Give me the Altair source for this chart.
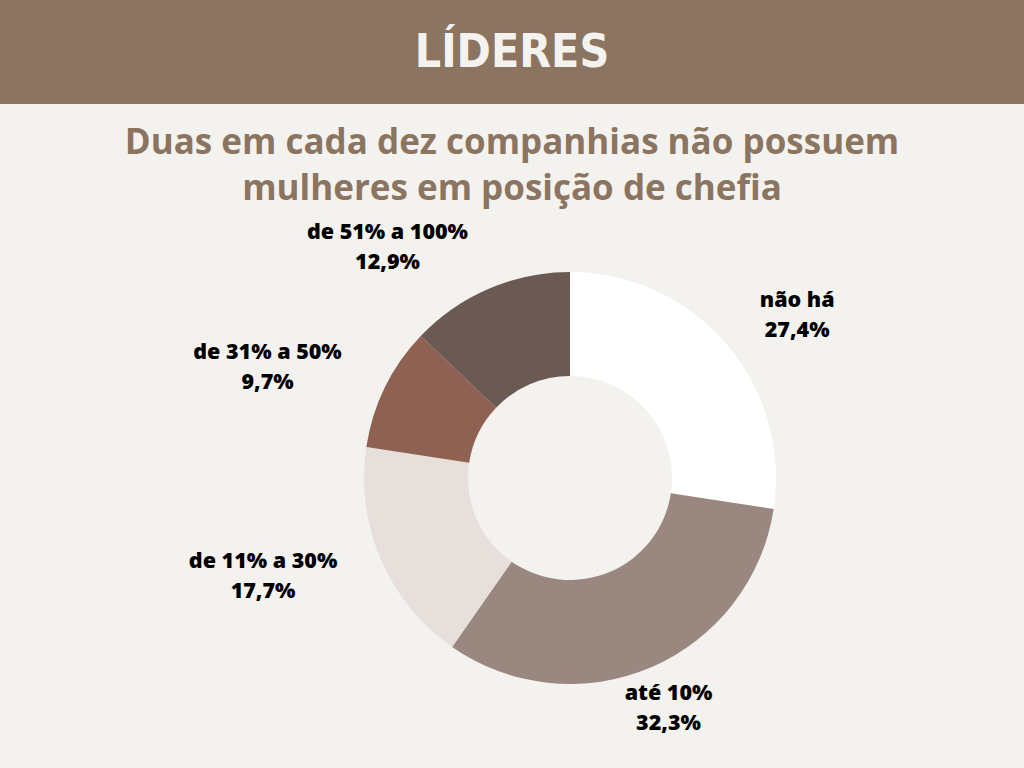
import altair as alt
import pandas as pd

categories = ["não há", "até 10%", "de 11% a 30%", "de 31% a 50%", "de 51% a 100%"]
values = [27.4, 32.3, 17.7, 9.7, 12.9]
colors = ["#ffffff", "#9a8880", "#e7dfdb", "#8e6152", "#6b5953"]

header_text = "LÍDERES"
title_lines = ["Duas em cada dez companhias não possuem", "mulheres em posição de chefia"]

BG = "#f4f2ef"
BROWN = "#8b7560"
CX, CY = 570, 478
R_OUT, R_IN = 206, 102
LABEL_R = 260
LINE_H = 30
# layout nudges for each label (pixels), relative to the label block centre
nudges = [(30, 7), (-4, -8), (-68, -4), (-69, 4), (-80, 9)]

df = pd.DataFrame({
    "cat": categories,
    "value": values,
    "order": list(range(len(categories))),
    "label": [f"{c}\n{str(v).replace('.', ',')}%" for c, v in zip(categories, values)],
})

base = alt.Chart(df)

arc = base.mark_arc(outerRadius=R_OUT, innerRadius=R_IN, stroke=None).encode(
    theta=alt.Theta("value:Q", stack=True),
    order=alt.Order("order:Q"),
    color=alt.Color("cat:N", scale=alt.Scale(domain=categories, range=colors), legend=None),
    x=alt.value(CX),
    y=alt.value(CY),
)

label_layers = []
for cat, (dx, dy) in zip(categories, nudges):
    label_layers.append(
        base.mark_text(
            radius=LABEL_R, dx=dx, dy=dy - LINE_H / 2, lineBreak="\n", font="Open Sans",
            fontWeight=800, fontSize=21.5, lineHeight=LINE_H, color="#000000",
            align="center", baseline="middle",
        ).encode(
            theta=alt.Theta("value:Q", stack=True),
            order=alt.Order("order:Q"),
            text="label:N",
            x=alt.value(CX),
            y=alt.value(CY),
            opacity=alt.condition(alt.datum.cat == cat, alt.value(1), alt.value(0)),
        )
    )

hdr_df = pd.DataFrame({"t": [header_text]})
header_rect = alt.Chart(hdr_df).mark_rect(color=BROWN).encode(
    x=alt.value(0), x2=alt.value(1024), y=alt.value(0), y2=alt.value(104)
)
header_txt = alt.Chart(hdr_df).mark_text(
    font="Liberation Sans Narrow, DejaVu Sans Condensed, sans-serif",
    fontWeight="bold", fontSize=46, color=BG, align="center", baseline="middle",
).encode(text="t:N", x=alt.value(512), y=alt.value(53))

title_df = pd.DataFrame({"t": ["\n".join(title_lines)]})
title_txt = alt.Chart(title_df).mark_text(
    font="Open Sans", fontWeight="bold", fontSize=35, lineHeight=46, color=BROWN,
    align="center", baseline="middle", lineBreak="\n",
).encode(text="t:N", x=alt.value(512), y=alt.value(143))

chart = alt.layer(header_rect, header_txt, title_txt, arc, *label_layers).properties(
    width=1024, height=768, background=BG, padding=0,
    autosize=alt.AutoSizeParams(type="none"),
).configure_view(stroke=None)

chart.save("out.html", embed_options={"renderer": "svg", "actions": False})
